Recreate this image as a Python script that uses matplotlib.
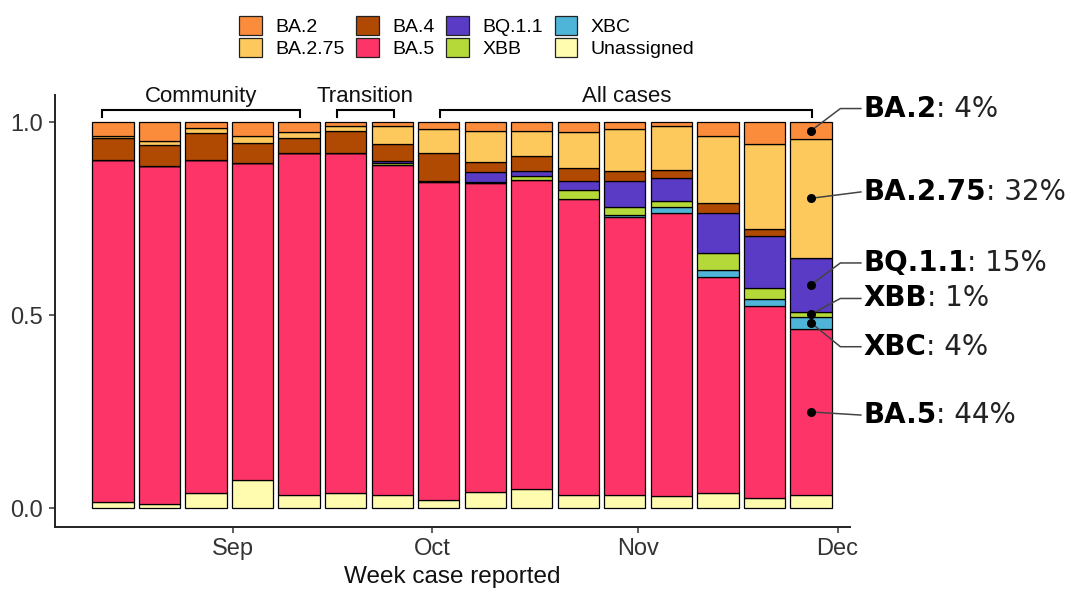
import matplotlib
matplotlib.use("Agg")
import matplotlib.pyplot as plt
import matplotlib.dates as mdates
import numpy as np
from matplotlib.patches import Patch

plt.rcParams["font.family"] = ["Liberation Sans", "DejaVu Sans"]

# Weekly reporting dates (bar centres)
weeks = np.arange(np.datetime64("2022-08-14"), np.datetime64("2022-12-01"), np.timedelta64(7, "D"))

# Proportions per week, stacked bottom -> top
unassigned = [0.017, 0.012, 0.040, 0.073, 0.034, 0.041, 0.034, 0.021,
              0.043, 0.050, 0.035, 0.036, 0.033, 0.040, 0.028, 0.035]
ba5 = [0.887, 0.874, 0.862, 0.822, 0.887, 0.880, 0.855, 0.824,
       0.800, 0.802, 0.767, 0.718, 0.733, 0.559, 0.497, 0.430]
xbc = [0, 0, 0, 0, 0, 0, 0, 0,
       0, 0, 0, 0.006, 0.014, 0.019, 0.017, 0.032]
xbb = [0, 0, 0, 0, 0, 0, 0.005, 0.003,
       0.004, 0.010, 0.024, 0.020, 0.017, 0.043, 0.029, 0.012]
bq11 = [0, 0, 0, 0, 0, 0, 0.006, 0,
        0.024, 0.011, 0.022, 0.068, 0.058, 0.105, 0.134, 0.141]
ba4 = [0.055, 0.055, 0.070, 0.053, 0.039, 0.056, 0.045, 0.074,
       0.026, 0.039, 0.035, 0.026, 0.023, 0.026, 0.018, 0.0]
ba275 = [0.006, 0.011, 0.014, 0.018, 0.014, 0.013, 0.045, 0.062,
         0.082, 0.065, 0.091, 0.110, 0.112, 0.174, 0.222, 0.307]
ba2 = [0.035, 0.048, 0.014, 0.034, 0.026, 0.010, 0.010, 0.016,
       0.021, 0.023, 0.026, 0.016, 0.010, 0.034, 0.055, 0.043]

stack_names = ["Unassigned", "BA.5", "XBC", "XBB", "BQ.1.1", "BA.4", "BA.2.75", "BA.2"]
stack_values = [unassigned, ba5, xbc, xbb, bq11, ba4, ba275, ba2]
colors = {
    "BA.2": "#FA8C3C",
    "BA.2.75": "#FDC95C",
    "BA.4": "#B04A02",
    "BA.5": "#FD3468",
    "BQ.1.1": "#5A3BC5",
    "XBB": "#B6D93A",
    "XBC": "#4FB5D8",
    "Unassigned": "#FFFCB0",
}
legend_order = ["BA.2", "BA.2.75", "BA.4", "BA.5", "BQ.1.1", "XBB", "XBC", "Unassigned"]

# Sampling periods shown with brackets
groups = ["Community", "Transition", "All cases"]
group_start = ["2022-08-12T10:00", "2022-09-16T16:00", "2022-10-02T06:00"]
group_end = ["2022-09-11T02:00", "2022-09-25T05:00", "2022-11-27T05:00"]

# Labels for the last week
last_labels = ["BA.2", "BA.2.75", "BQ.1.1", "XBB", "XBC", "BA.5"]
last_pcts = ["4%", "32%", "15%", "1%", "4%", "44%"]

fig = plt.figure(figsize=(10.71, 5.94), dpi=100)
ax = fig.add_axes([0.0514, 0.1128, 0.7423, 0.7272])

x = mdates.date2num(weeks)
bottom = np.zeros(len(weeks))
for name, vals in zip(stack_names, stack_values):
    vals = np.array(vals)
    ax.bar(x, vals, width=6.2, bottom=bottom, color=colors[name],
           edgecolor="black", linewidth=0.9, zorder=2)
    bottom += vals

ax.set_ylim(-0.048, 1.071)
ax.set_xlim(mdates.date2num(np.datetime64("2022-08-05T07:00")),
            mdates.date2num(np.datetime64("2022-12-02T21:00")))
ax.set_yticks([0.0, 0.5, 1.0])
ax.set_yticklabels(["0.0", "0.5", "1.0"])
ax.xaxis.set_major_locator(mdates.MonthLocator(bymonth=[9, 10, 11, 12]))
ax.xaxis.set_major_formatter(mdates.DateFormatter("%b"))
ax.tick_params(axis="both", labelsize=17, colors="#333333", length=4, width=1.1)
ax.tick_params(axis="y", pad=5)
ax.tick_params(axis="x", pad=4)
for s in ["top", "right"]:
    ax.spines[s].set_visible(False)
for s in ["left", "bottom"]:
    ax.spines[s].set_linewidth(1.4)
    ax.spines[s].set_color("#222222")
ax.set_xlabel("Week case reported", fontsize=17.5, labelpad=4, color="#111111")

# Brackets above the bars
for name, d0, d1 in zip(groups, group_start, group_end):
    x0 = mdates.date2num(np.datetime64(d0))
    x1 = mdates.date2num(np.datetime64(d1))
    ax.plot([x0, x0, x1, x1], [1.014, 1.032, 1.032, 1.014], color="black",
            linewidth=1.5, clip_on=False, solid_joinstyle="miter")
    ax.text((x0 + x1) / 2, 1.040, name, ha="center", va="bottom",
            fontsize=16, color="#111111")

# Annotations for the last week
last = len(weeks) - 1
mids = {}
cum = 0.0
for name, vals in zip(stack_names, stack_values):
    mids[name] = cum + vals[last] / 2
    cum += vals[last]

label_y = [1.036, 0.820, 0.636, 0.544, 0.419, 0.242]
x_dot = x[last]
x_elbow = mdates.date2num(np.datetime64("2022-12-01T10:00"))
x_text = mdates.date2num(np.datetime64("2022-12-04T20:00"))
x_line_end = mdates.date2num(np.datetime64("2022-12-04T12:00"))
for name, pct, ly in zip(last_labels, last_pcts, label_y):
    my = mids[name]
    if abs(my - ly) > 0.02:
        xs = [x_dot, x_elbow, x_line_end]
        ys = [my, ly, ly]
    else:
        xs = [x_dot, x_line_end]
        ys = [my, ly]
    ax.plot(xs, ys, color="#444444", linewidth=1.1, clip_on=False, zorder=3)
    ax.plot(x_dot, my, "o", color="black", markersize=5.5, clip_on=False, zorder=4)
    t = ax.text(x_text, ly, name, fontsize=20, fontweight="bold",
                family="DejaVu Sans", ha="left", va="center", color="black")
    ax.annotate(": " + pct, xy=(1, 0), xycoords=t, ha="left", va="bottom",
                fontsize=20, family="DejaVu Sans", color="#222222")

handles = [Patch(facecolor=colors[n], edgecolor="#222222", linewidth=0.9, label=n)
           for n in legend_order]
fig.legend(handles=handles, loc="center", bbox_to_anchor=(0.436, 0.938), ncol=4,
           frameon=False, fontsize=14, handlelength=1.15, handleheight=1.15,
           labelspacing=0.1, columnspacing=0.6, handletextpad=0.7,
           borderaxespad=0, borderpad=0)

fig.savefig("out.png", dpi=100)
